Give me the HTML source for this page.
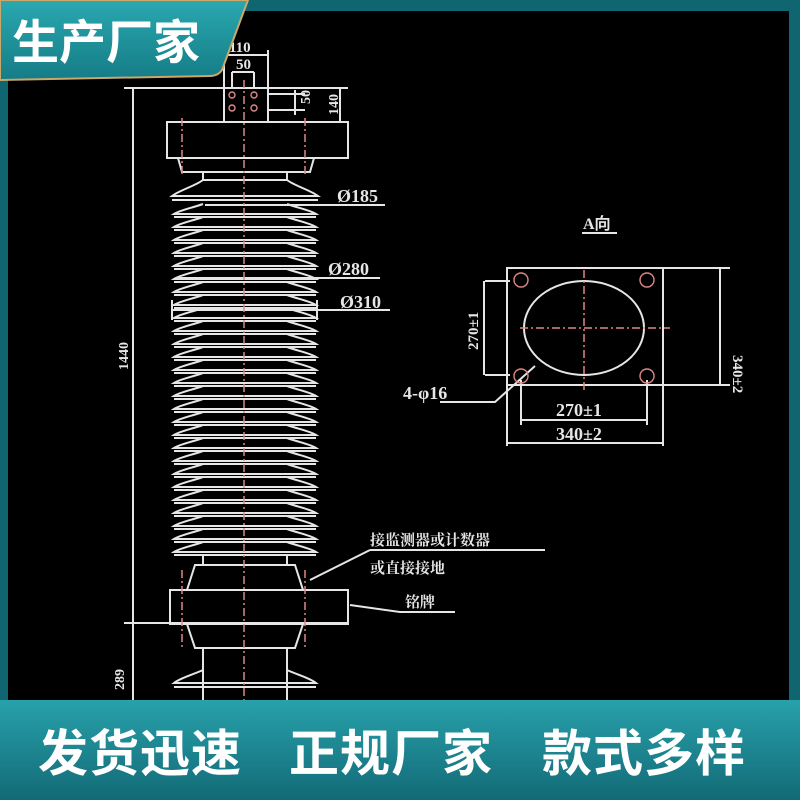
<!DOCTYPE html>
<html><head><meta charset="utf-8"><style>
html,body{margin:0;padding:0;background:#0f6670;}
body{width:800px;height:800px;position:relative;overflow:hidden;font-family:"Liberation Sans","Noto Sans CJK SC",sans-serif;}
.b{position:absolute;color:#fff;font-weight:bold;font-family:"Noto Sans CJK SC","WenQuanYi Zen Hei",sans-serif;white-space:nowrap;}
</style></head><body>
<svg width="800" height="800" style="position:absolute;left:0;top:0" xmlns="http://www.w3.org/2000/svg">
<defs>
<linearGradient id="tg" x1="0" y1="0" x2="0" y2="1"><stop offset="0" stop-color="#2aa8b0"/><stop offset="1" stop-color="#157c86"/></linearGradient>
<linearGradient id="bg" x1="0" y1="0" x2="0" y2="1"><stop offset="0" stop-color="#28a1ab"/><stop offset="1" stop-color="#126a76"/></linearGradient>
</defs>
<rect x="0" y="0" width="800" height="800" fill="#0f6670"/>
<rect x="8" y="11" width="781" height="690" fill="#000"/>
<g stroke="#e6e6e6" stroke-width="2" fill="none">
<line x1="124" y1="88" x2="348" y2="88"/>
<line x1="133" y1="88" x2="133" y2="700"/>
<line x1="124" y1="623" x2="348" y2="623"/>
<rect x="224" y="88" width="44" height="34"/>
<line x1="224" y1="55" x2="224" y2="88"/><line x1="268" y1="50" x2="268" y2="88"/>
<line x1="224" y1="55" x2="268" y2="55"/>
<line x1="232" y1="72" x2="232" y2="88"/><line x1="254" y1="72" x2="254" y2="88"/><line x1="232" y1="72" x2="254" y2="72"/>
<line x1="268" y1="94" x2="305" y2="94"/><line x1="268" y1="110" x2="305" y2="110"/><line x1="295" y1="90" x2="295" y2="115"/>
<line x1="340" y1="88" x2="340" y2="122"/>
<rect x="167" y="122" width="181" height="36"/>
<path d="M178 158 L182 172 L310 172 L314 158"/>
<path d="M203 172 L203 180 L287 180 L287 172"/>
<path d="M203 180 C195 186 180 190 172 196 L318 196 C310 190 295 186 287 180"/>
<line x1="172" y1="200" x2="318" y2="200"/>
<path d="M203 204 C192 208 180 210 174 214 L316 214 C310 210 298 208 287 204 M174 217 L316 217
M203 217 C192 221 180 223 174 227 L316 227 C310 223 298 221 287 217 M174 230 L316 230
M203 230 C192 234 180 236 174 240 L316 240 C310 236 298 234 287 230 M174 243 L316 243
M203 243 C192 247 180 249 174 253 L316 253 C310 249 298 247 287 243 M174 256 L316 256
M203 256 C192 260 180 262 174 266 L316 266 C310 262 298 260 287 256 M174 269 L316 269
M203 269 C192 273 180 275 174 279 L316 279 C310 275 298 273 287 269 M174 282 L316 282
M203 282 C192 286 180 288 174 292 L316 292 C310 288 298 286 287 282 M174 295 L316 295
M203 295 C192 299 180 301 174 305 L316 305 C310 301 298 299 287 295 M174 308 L316 308
M203 308 C192 312 180 314 174 318 L316 318 C310 314 298 312 287 308 M174 321 L316 321
M203 321 C192 325 180 327 174 331 L316 331 C310 327 298 325 287 321 M174 334 L316 334
M203 334 C192 338 180 340 174 344 L316 344 C310 340 298 338 287 334 M174 347 L316 347
M203 347 C192 351 180 353 174 357 L316 357 C310 353 298 351 287 347 M174 360 L316 360
M203 360 C192 364 180 366 174 370 L316 370 C310 366 298 364 287 360 M174 373 L316 373
M203 373 C192 377 180 379 174 383 L316 383 C310 379 298 377 287 373 M174 386 L316 386
M203 386 C192 390 180 392 174 396 L316 396 C310 392 298 390 287 386 M174 399 L316 399
M203 399 C192 403 180 405 174 409 L316 409 C310 405 298 403 287 399 M174 412 L316 412
M203 412 C192 416 180 418 174 422 L316 422 C310 418 298 416 287 412 M174 425 L316 425
M203 425 C192 429 180 431 174 435 L316 435 C310 431 298 429 287 425 M174 438 L316 438
M203 438 C192 442 180 444 174 448 L316 448 C310 444 298 442 287 438 M174 451 L316 451
M203 451 C192 455 180 457 174 461 L316 461 C310 457 298 455 287 451 M174 464 L316 464
M203 464 C192 468 180 470 174 474 L316 474 C310 470 298 468 287 464 M174 477 L316 477
M203 477 C192 481 180 483 174 487 L316 487 C310 483 298 481 287 477 M174 490 L316 490
M203 490 C192 494 180 496 174 500 L316 500 C310 496 298 494 287 490 M174 503 L316 503
M203 503 C192 507 180 509 174 513 L316 513 C310 509 298 507 287 503 M174 516 L316 516
M203 516 C192 520 180 522 174 526 L316 526 C310 522 298 520 287 516 M174 529 L316 529
M203 529 C192 533 180 535 174 539 L316 539 C310 535 298 533 287 529 M174 542 L316 542
M203 542 C192 546 180 548 174 552 L316 552 C310 548 298 546 287 542 M174 555 L316 555"/>
<line x1="203" y1="555" x2="203" y2="565"/><line x1="287" y1="555" x2="287" y2="565"/>
<path d="M195 565 L295 565 L303 590 L187 590 Z"/>
<rect x="170" y="590" width="178" height="34"/>
<path d="M187 624 L195 648 L295 648 L303 624"/>
<line x1="203" y1="648" x2="203" y2="700"/><line x1="287" y1="648" x2="287" y2="700"/>
<path d="M203 670 C192 675 180 678 174 683 L316 683 C310 678 298 675 287 670"/>
<line x1="174" y1="687" x2="316" y2="687"/>
<line x1="205" y1="205" x2="385" y2="205"/>
<line x1="178" y1="278" x2="380" y2="278"/>
<line x1="172" y1="310" x2="390" y2="310"/>
<line x1="172" y1="300" x2="172" y2="320"/><line x1="317" y1="300" x2="317" y2="320"/>
<line x1="310" y1="580" x2="370" y2="550"/><line x1="370" y1="550" x2="545" y2="550"/>
<path d="M350 605 L400 612 L455 612"/>
<rect x="507" y="268" width="156" height="117"/>
<ellipse cx="584" cy="328" rx="60" ry="47"/>
<line x1="485" y1="281" x2="510" y2="281"/><line x1="485" y1="375" x2="510" y2="375"/><line x1="484" y1="281" x2="484" y2="375"/>
<line x1="663" y1="268" x2="730" y2="268"/><line x1="663" y1="385" x2="730" y2="385"/><line x1="720" y1="268" x2="720" y2="385"/>
<line x1="521" y1="380" x2="521" y2="425"/><line x1="647" y1="380" x2="647" y2="425"/><line x1="521" y1="420" x2="647" y2="420"/>
<line x1="507" y1="385" x2="507" y2="446"/><line x1="663" y1="385" x2="663" y2="446"/><line x1="507" y1="443" x2="663" y2="443"/>
<path d="M535 366 L495 402 L440 402"/>
<line x1="582" y1="233" x2="617" y2="233"/>
</g>
<g stroke="#d88" stroke-width="1.5" fill="none" stroke-dasharray="8 3 2 3">
<line x1="244" y1="80" x2="244" y2="700"/>
<line x1="182" y1="118" x2="182" y2="175"/><line x1="305" y1="118" x2="305" y2="175"/>
<line x1="182" y1="570" x2="182" y2="650"/><line x1="305" y1="570" x2="305" y2="650"/>
<line x1="584" y1="270" x2="584" y2="390"/><line x1="520" y1="328" x2="670" y2="328"/>
</g>
<g stroke="#d88" stroke-width="1.4" fill="none">
<circle cx="521" cy="280" r="7"/><circle cx="647" cy="280" r="7"/><circle cx="521" cy="376" r="7"/><circle cx="647" cy="376" r="7"/>
<circle cx="232" cy="95" r="3"/><circle cx="254" cy="95" r="3"/><circle cx="232" cy="108" r="3"/><circle cx="254" cy="108" r="3"/>
</g>
<g fill="#e6e6e6" font-family="Liberation Serif,serif" font-size="18" font-weight="bold">
<text x="229" y="52" font-size="15">110</text>
<text x="236" y="69" font-size="15">50</text>
<text x="310" y="104" font-size="14" transform="rotate(-90 310 104)">50</text>
<text x="338" y="115" font-size="14" transform="rotate(-90 338 115)">140</text>
<text x="337" y="202">Ø185</text>
<text x="328" y="275">Ø280</text>
<text x="340" y="308">Ø310</text>
<text x="128" y="370" font-size="14" transform="rotate(-90 128 370)">1440</text>
<text x="124" y="690" font-size="14" transform="rotate(-90 124 690)">289</text>
<text x="583" y="229" font-size="16">A向</text>
<text x="478" y="350" font-size="15" transform="rotate(-90 478 350)">270±1</text>
<text x="733" y="355" font-size="15" transform="rotate(90 733 355)">340±2</text>
<text x="403" y="399">4-φ16</text>
<text x="556" y="416">270±1</text>
<text x="556" y="440">340±2</text>
<text x="370" y="545" font-size="15" font-family="Noto Serif CJK SC,serif">接监测器或计数器</text>
<text x="370" y="573" font-size="15" font-family="Noto Serif CJK SC,serif">或直接接地</text>
<text x="405" y="607" font-size="15" font-family="Noto Serif CJK SC,serif">铭牌</text>
</g>
<path d="M0 0 L248 0 L222 70 Q218 76 210 76 L0 80 Z" fill="url(#tg)" stroke="#c9a86a" stroke-width="2"/>
<rect x="0" y="700" width="800" height="100" fill="url(#bg)"/>
</svg>
<div class="b" style="left:12px;top:11px;font-size:47px;line-height:56px;">生产厂家</div>
<div class="b" style="left:38px;top:720px;font-size:50px;line-height:60px;letter-spacing:1px;">发货迅速</div>
<div class="b" style="left:289px;top:720px;font-size:50px;line-height:60px;letter-spacing:1px;">正规厂家</div>
<div class="b" style="left:542px;top:720px;font-size:50px;line-height:60px;letter-spacing:1px;">款式多样</div>
</body></html>
